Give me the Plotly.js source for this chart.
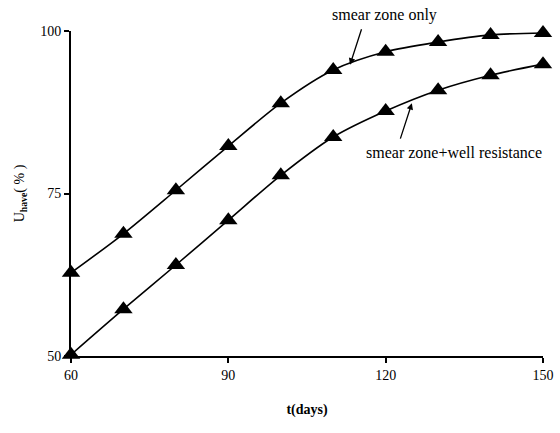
<!DOCTYPE html>
<html>
<head>
<meta charset="utf-8">
<script src="https://cdn.plot.ly/plotly-3.0.1.min.js"></script>
<style>html,body{margin:0;padding:0;background:#fff;}#chart{width:560px;height:433px;}</style>
</head>
<body>
<div id="chart"></div>
<script>
const days = [60, 70, 80, 90, 100, 110, 120, 130, 140, 150];
const smearOnly = [62.8, 68.8, 75.5, 82.3, 88.9, 94.0, 96.8, 98.3, 99.4, 99.7];
const smearWell = [50.2, 57.2, 64.0, 70.9, 77.8, 83.7, 87.7, 90.9, 93.2, 94.9];
const xTicks = [60, 90, 120, 150];
const yTicks = [50, 75, 100];

const serif = "Liberation Serif, Times New Roman, serif";
function series(name, y) {
  return {
    x: days, y: y, name: name, type: 'scatter', mode: 'lines+markers',
    line: {color: '#000', width: 1.6, shape: 'spline', smoothing: 0.8},
    marker: {symbol: 'triangle-up', size: 16, color: '#000'},
    cliponaxis: false, showlegend: false
  };
}
const data = [series('smear zone only', smearOnly), series('smear zone+well resistance', smearWell)];

const layout = {
  width: 560, height: 433,
  margin: {l: 71, r: 17, t: 31, b: 77},
  paper_bgcolor: '#fff', plot_bgcolor: '#fff',
  font: {family: serif, color: '#000', size: 14},
  xaxis: {
    range: [60, 150], tickvals: xTicks, ticktext: xTicks.map(String),
    showgrid: false, zeroline: false, showline: true, linecolor: '#000', linewidth: 2,
    ticks: 'outside', ticklen: 5, tickwidth: 2, tickcolor: '#000',
    tickfont: {family: serif, size: 14},
    title: {text: '<b>t(days)</b>', font: {family: serif, size: 14}, standoff: 22}
  },
  yaxis: {
    range: [50, 100], tickvals: yTicks, ticktext: yTicks.map(String),
    showgrid: false, zeroline: false, showline: true, linecolor: '#000', linewidth: 2,
    ticks: 'outside', ticklen: 5, tickwidth: 2, tickcolor: '#000',
    tickfont: {family: serif, size: 14},
    title: {text: 'U<sub><b>have</b></sub>( % )', font: {family: serif, size: 14}, standoff: 12}
  },
  annotations: [
    {xref: 'paper', yref: 'paper', x: (384-71)/472, y: (356-15)/325, xanchor: 'center', yanchor: 'middle', text: 'smear zone only', showarrow: false, font: {family: serif, size: 16}},
    {xref: 'paper', yref: 'paper', x: (454-71)/472, y: (356-152)/325, xanchor: 'center', yanchor: 'middle', text: 'smear zone+well resistance', showarrow: false, font: {family: serif, size: 16}},
    {x: 113.2, y: 94.8, text: '', showarrow: true, ax: 12, ay: -37, arrowhead: 2, arrowsize: 1, arrowwidth: 1.3, arrowcolor: '#000', standoff: 0},
    {x: 125.0, y: 88.9, text: '', showarrow: true, ax: -12, ay: 37, arrowhead: 2, arrowsize: 1, arrowwidth: 1.3, arrowcolor: '#000', standoff: 0}
  ]
};
Plotly.newPlot('chart', data, layout, {displayModeBar: false, staticPlot: true});
</script>
</body>
</html>
